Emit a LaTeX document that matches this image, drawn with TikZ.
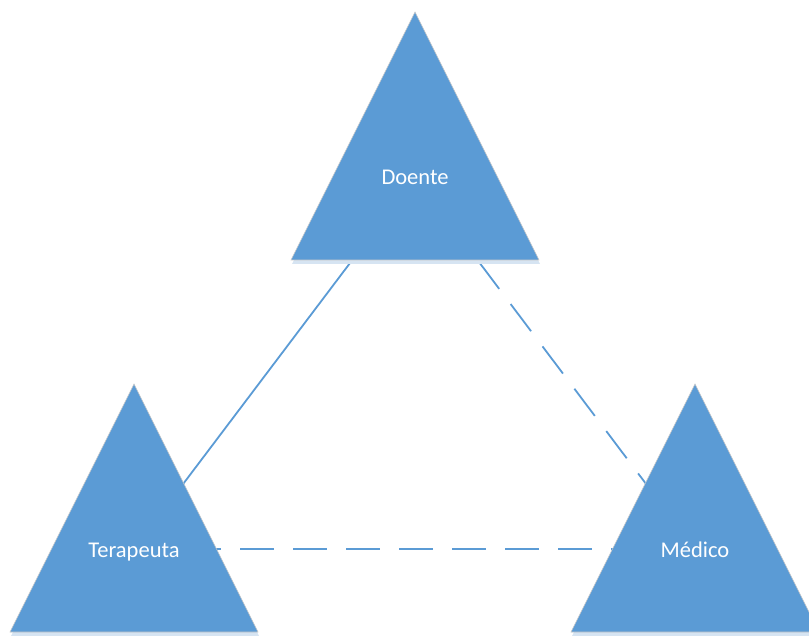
\documentclass[tikz,border=0pt]{standalone}
\usepackage{fontspec}
\setmainfont{Carlito}
\definecolor{accent}{HTML}{5B9BD5}
\definecolor{shade}{HTML}{D6E4F2}
\begin{document}
\begin{tikzpicture}[x=1pt,y=-1pt,
  connector/.style={draw=accent,line width=1.8pt},
  dashedconnector/.style={connector,dash pattern=on 34pt off 19pt},
  tri/.style={fill=accent,draw=black!22,line width=0.6pt},
  trishadow/.style={fill=shade},
  tlabel/.style={text=white,anchor=base,inner sep=0pt,font=\fontsize{22.5}{27}\selectfont}]
  \clip (0,0) rectangle (809,636);
  % centres of the three roles
  \coordinate (doente) at (415,177);
  \coordinate (terapeuta) at (134,549);
  \coordinate (medico) at (695,549);
  % relations, drawn behind the triangles
  \draw[connector] (doente) -- (terapeuta);
  \draw[dashedconnector] (doente) -- (medico);
  \draw[dashedconnector] (terapeuta) -- (medico);
  % triangles with a soft drop shadow
  \foreach \c in {doente,terapeuta,medico}{
    \fill[trishadow] ([shift={(1,4)}]\c) ++(0,-165) -- ++(124,248) -- ++(-248,0) -- cycle;
    \draw[tri] (\c) ++(0,-165) -- ++(124,248) -- ++(-248,0) -- cycle;
  }
  % labels, baseline a little below each centre
  \node[tlabel] (tdoente) at ([yshift=-8]doente) {Doente};
  \node[tlabel] (tterapeuta) at ([yshift=-8]terapeuta) {Terapeuta};
  \node[tlabel] (tmedico) at ([yshift=-8]medico) {Médico};
\end{tikzpicture}
\end{document}
